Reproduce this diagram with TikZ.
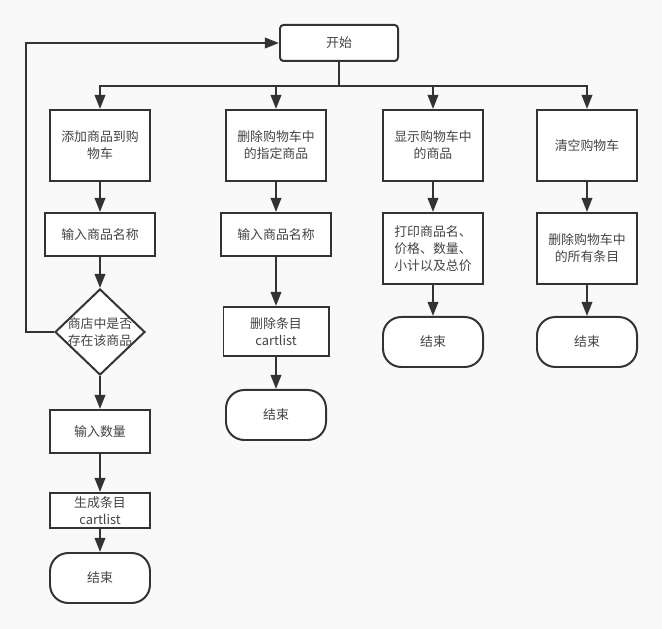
\documentclass[tikz,border=0pt]{standalone}
\usepackage{fontspec}
\setmainfont{Noto Sans CJK SC}
\usepackage{tikz}
\usetikzlibrary{arrows.meta, shapes.geometric, positioning}
\usepackage{xcolor}
\definecolor{inkgray}{RGB}{51, 51, 51}
\definecolor{txtgray}{RGB}{68, 68, 68}
\definecolor{paper}{RGB}{249, 249, 249}

\begin{document}
\begin{tikzpicture}[
  x=0.03cm, y=-0.03cm,
  every node/.style={font=\fontsize{11}{14.5}\selectfont, text=txtgray, align=center},
  box/.style={rectangle, draw=inkgray, fill=white, line width=1.7pt, inner sep=1pt},
  startbox/.style={box, rounded corners=3pt, minimum width=3.54cm, minimum height=1.08cm},
  stepbox/.style={box, minimum width=3cm, minimum height=2.13cm},
  inputbox/.style={box, minimum width=3.3cm, minimum height=1.29cm},
  smallbox/.style={box, minimum width=3cm, minimum height=1.29cm},
  endbox/.style={box, rounded corners=0.55cm, minimum width=3cm, minimum height=1.5cm},
  decision/.style={diamond, draw=inkgray, fill=white, line width=1.7pt, inner sep=0pt,
                   minimum width=2.7cm, minimum height=2.58cm},
  wire/.style={draw=inkgray, line width=1.7pt},
  arr/.style={wire, -{Triangle[length=12pt, width=9pt]}}
]
  % background and margins
  \fill[paper] (0,0) rectangle (662,629);
  \useasboundingbox (0,0) rectangle (662,629);

  \node[startbox] (start) at (339,43) {开始};
  \coordinate (split) at (339,86);

  % add to cart
  \node[stepbox] (add) at (100,145.5) {添加商品到购\\物车};
  \node[inputbox] (nameA) at (100,234.5) {输入商品名称};
  \node[decision, label={[align=center]center:{商店中是否\\存在该商品}}] (check) at (100,332) {};
  \node[smallbox] (qty) at (100,431.5) {输入数量};
  \node[smallbox, minimum height=1.05cm, inner sep=0pt] (gen) at (100,510.5) {生成条目\\cartlist};
  \node[endbox] (endA) at (100,578) {结束};

  % remove from cart
  \node[stepbox] (del) at (276,145.5) {删除购物车中\\的指定商品};
  \node[inputbox] (nameB) at (276,234.5) {输入商品名称};
  \node[smallbox, minimum width=3.15cm, minimum height=1.47cm] (delitem) at (276,331.5) {删除条目\\cartlist};
  \node[endbox] (endB) at (276,415) {结束};

  % show cart
  \node[stepbox] (show) at (433,145.5) {显示购物车中\\的商品};
  \node[stepbox, align=left] (print) at (433,248.5) {打印商品名、\\价格、数量、\\小计以及总价};
  \node[endbox] (endC) at (433,342) {结束};

  % clear cart
  \node[stepbox] (clear) at (587,145.5) {清空购物车};
  \node[stepbox] (delall) at (587,248.5) {删除购物车中\\的所有条目};
  \node[endbox] (endD) at (587,342) {结束};

  \draw[wire] (start) -- (split);
  \draw[arr] (split) -| (add);
  \draw[arr] (split) -| (del);
  \draw[arr] (split) -| (show);
  \draw[arr] (split) -| (clear);

  \draw[arr] (add) -- (nameA);
  \draw[arr] (nameA) -- (check);
  \draw[arr] (check) -- (qty);
  \draw[arr] (qty) -- (gen);
  \draw[arr] (gen) -- (endA);
  \draw[arr] (check.west) -- ++(-28,0) |- (start.west);

  \draw[arr] (del) -- (nameB);
  \draw[arr] (nameB) -- (delitem);
  \draw[arr] (delitem) -- (endB);

  \draw[arr] (show) -- (print);
  \draw[arr] (print) -- (endC);

  \draw[arr] (clear) -- (delall);
  \draw[arr] (delall) -- (endD);
\end{tikzpicture}
\end{document}
